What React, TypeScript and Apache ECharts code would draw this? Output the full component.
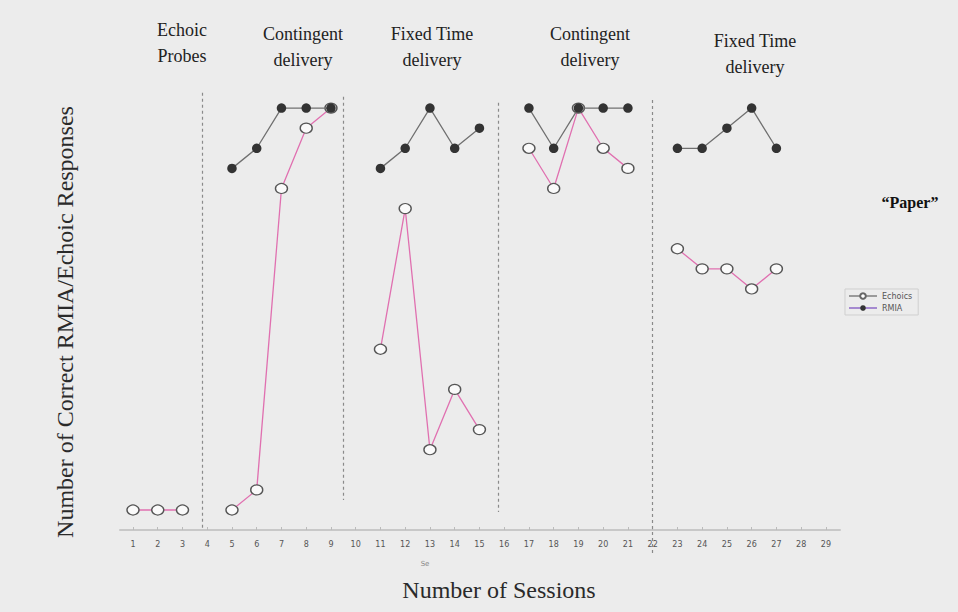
import React, { useEffect, useRef } from "react";
import * as echarts from "echarts";

const sessions = [1, 2, 3, 4, 5, 6, 7, 8, 9, 10, 11, 12, 13, 14, 15, 16, 17, 18, 19, 20, 21, 22, 23, 24, 25, 26, 27];
const echoics: (number | null)[] = [0, 0, 0, null, 0, 1, 16, 19, 20, null, 8, 15, 3, 6, 4, null, 18, 16, 20, 18, 17, null, 13, 12, 12, 11, 12];
const rmia: (number | null)[] = [null, null, null, null, 17, 18, 20, 20, 20, null, 17, 18, 20, 18, 19, null, 20, 18, 20, 20, 20, null, 18, 18, 19, 20, 18];
const tickLabels = Array.from({ length: 29 }, (_, i) => i + 1);
const phaseLabels = ["Echoic\nProbes", "Contingent\ndelivery", "Fixed Time\ndelivery", "Contingent\ndelivery", "Fixed Time\ndelivery"];
// phase change lines: [x, yTop, yBottom]
const phaseLines: [number, number, number][] = [
  [3.79, 20.76, -1],
  [9.48, 20.56, 0.5],
  [15.75, 20.26, -0.1],
  [22.0, 20.4, -2.25],
];

export default function App() {
  const ref = useRef<HTMLDivElement>(null);
  useEffect(() => {
    document.body.style.margin = "0";
    const chart = echarts.init(ref.current!, undefined, { renderer: "svg" });
    const serif = "Liberation Serif";
    const phaseX = [182, 303, 432, 590, 755];
    const phaseY = [17, 21, 21, 21, 28];
    chart.setOption({
      animation: false,
      backgroundColor: "#ececec",
      grid: { left: 120, right: 118, top: 88, bottom: 56 },
      legend: {
        orient: "vertical",
        left: 845,
        top: 289,
        borderColor: "#cfcfcf",
        borderWidth: 1,
        padding: [3, 6, 3, 3],
        itemGap: 4,
        itemWidth: 28,
        itemHeight: 7,
        textStyle: { fontSize: 8, color: "#555", fontFamily: "DejaVu Sans" },
        data: [
          { name: "Echoics", lineStyle: { color: "#9a9a9a" }, itemStyle: { color: "#fff", borderColor: "#666" } },
          { name: "RMIA", lineStyle: { color: "#a58ad0" }, itemStyle: { color: "#333" } },
        ],
      },
      xAxis: {
        type: "value",
        min: 0.475,
        max: 29.57,
        offset: -26,
        name: "Number of Sessions",
        nameLocation: "middle",
        nameGap: 48,
        nameTextStyle: { fontFamily: serif, fontSize: 24, color: "#2a2a2a", padding: [0, 0, 0, 38] },
        axisLine: { onZero: false, lineStyle: { color: "#c8c8c8", width: 2 } },
        axisTick: { show: true, length: 3, inside: true, customValues: tickLabels, lineStyle: { color: "#bbb" } },
        axisLabel: { customValues: tickLabels, fontSize: 8, color: "#555", margin: 10, fontFamily: "DejaVu Sans" },
        splitLine: { show: false },
      },
      yAxis: {
        type: "value",
        min: -2.29,
        max: 21,
        name: "Number of Correct RMIA/Echoic Responses",
        nameLocation: "middle",
        nameGap: 43,
        nameTextStyle: { fontFamily: serif, fontSize: 24, color: "#2a2a2a" },
        axisLine: { show: false },
        axisTick: { show: false },
        axisLabel: { show: false },
        splitLine: { show: false },
      },
      series: [
        {
          name: "Echoics",
          type: "line",
          data: sessions.map((s, i) => [s, echoics[i]]),
          connectNulls: false,
          symbol: "circle",
          symbolSize: [12, 10],
          lineStyle: { color: "#e070b0", width: 1.3 },
          itemStyle: { color: "#fafafa", borderColor: "#555", borderWidth: 1.3 },
          z: 3,
        },
        {
          name: "RMIA",
          type: "line",
          data: sessions.map((s, i) => [s, rmia[i]]),
          connectNulls: false,
          symbol: "circle",
          symbolSize: 9.5,
          lineStyle: { color: "#707070", width: 1.3 },
          itemStyle: { color: "#333" },
          z: 4,
        },
        {
          name: "phases",
          type: "line",
          data: [],
          clip: false,
          markLine: {
            silent: true,
            symbol: "none",
            label: { show: false },
            lineStyle: { color: "#8a8a8a", type: [3, 3], width: 1.2 },
            data: phaseLines.map(([x, t, b]) => [{ coord: [x, t] }, { coord: [x, b] }]),
          },
        },
      ],
      graphic: [
        ...phaseLabels.map((t, i) => ({
          type: "text",
          x: phaseX[i],
          y: phaseY[i],
          style: {
            text: t,
            textAlign: "center",
            font: `18px '${serif}'`,
            fill: "#222",
            lineHeight: 26,
          },
        })),
        {
          type: "text",
          x: 910,
          y: 194,
          style: { text: "\u201cPaper\u201d", textAlign: "center", font: `bold 16px '${serif}'`, fill: "#111" },
        },
        {
          type: "text",
          x: 425,
          y: 560,
          style: { text: "Se", textAlign: "center", font: "7px 'DejaVu Sans'", fill: "#888" },
        },
      ],
    });
    return () => chart.dispose();
  }, []);
  return <div ref={ref} style={{ width: 958, height: 612, position: "absolute", left: 0, top: 0 }} />;
}
